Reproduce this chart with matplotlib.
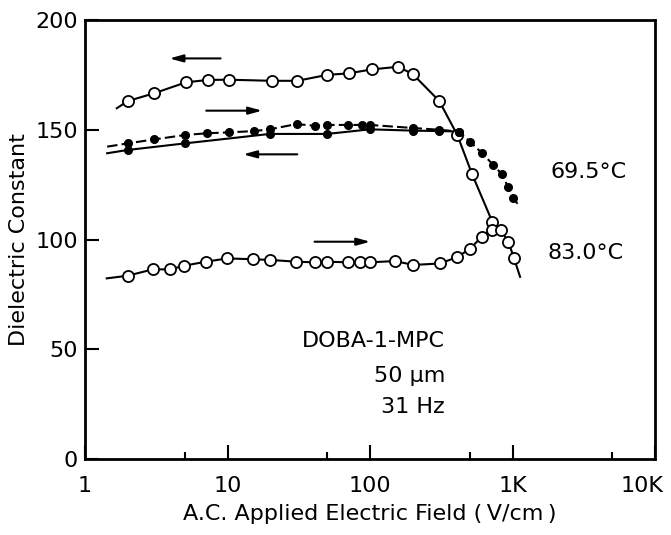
import numpy as np
import matplotlib.pyplot as plt
import matplotlib.transforms as mtransforms
from matplotlib.ticker import FixedLocator, FixedFormatter, NullFormatter

plt.rcParams['font.family'] = ['DejaVu Sans']

# 83.0 C, open circles, field decreasing (upper branch)
open_dn_x = [2.0, 3.05, 5.1, 7.26, 10.2, 20.4, 30.9, 50, 70.9, 103, 158, 200, 306, 410, 520, 721]
open_dn_y = [163.1, 166.6, 171.6, 172.7, 172.8, 172.3, 172.3, 175, 175.7, 177.5, 178.7, 175.3,
             163.1, 147.6, 129.8, 108.1]
open_dn_start = (1.67, 159.8)

# 83.0 C, open circles, field increasing (lower branch)
open_up_x = [1.99, 2.99, 3.95, 4.98, 7.06, 9.97, 15.2, 19.9, 30.3, 41.1, 50.1, 70.4, 85, 100,
             150, 201, 310, 406, 503, 608, 714, 826, 935, 1025]
open_up_y = [83.5, 86.4, 86.4, 88.1, 89.9, 91.4, 91, 90.7, 89.9, 89.6, 89.9, 89.6, 89.6, 89.6,
             90.2, 88.4, 89.1, 91.9, 95.7, 101.3, 104.3, 104.3, 99, 91.4]
open_up_start = (1.42, 82.3)
open_up_end = (1130, 83)

# 69.5 C, filled circles, field increasing (dashed)
fill_up_x = [2.0, 3.05, 5.03, 7.14, 10.2, 15.3, 19.8, 30.5, 41.1, 50, 70.2, 87.6, 100, 201, 306,
             420, 503, 608, 735, 843, 928, 1010]
fill_up_y = [143.8, 145.6, 147.6, 148.4, 148.8, 149.4, 150.2, 152.6, 151.8, 152.2, 152.2, 152.2,
             152.2, 150.8, 150, 149.2, 144.6, 139.5, 133.9, 129.7, 124.1, 118.8]
fill_up_start = (1.43, 142.3)
fill_up_end = (1130, 114.9)

# 69.5 C, filled circles, field decreasing (solid)
fill_dn_x = [2.0, 5.03, 19.8, 50, 100, 201, 306, 420]
fill_dn_y = [140.8, 143.8, 148.1, 148.1, 150.2, 149.6, 149.4, 149.2]
fill_dn_start = (1.43, 139.3)

# arrows: (x_from, x_to, y)
arrows = [(9.35, 3.74, 182.5), (6.78, 18.3, 158.7), (32.3, 12.3, 138.8), (39, 105, 99)]

x_ticks = [1, 10, 100, 1000, 10000]
x_tick_labels = ['1', '10', '100', '1K', '10K']
x_minor = [5, 50, 500, 5000]
y_ticks = [0, 50, 100, 150, 200]

fig = plt.figure(figsize=(6.71, 5.35), dpi=100)
ax = fig.add_axes([0.1267, 0.142, 0.8495, 0.8206])
ax.set_xscale('log')
ax.set_xlim(1, 10000)
ax.set_ylim(0, 200)

lw = 1.5
# open circles
ax.plot([open_dn_start[0]] + open_dn_x, [open_dn_start[1]] + open_dn_y, color='black', lw=lw, zorder=2)
ax.plot([open_up_start[0]] + open_up_x + [open_up_end[0]],
        [open_up_start[1]] + open_up_y + [open_up_end[1]], color='black', lw=lw, zorder=2)
ax.plot(open_dn_x, open_dn_y, 'o', ms=8, mfc='white', mec='black', mew=1.3, zorder=4)
ax.plot(open_up_x, open_up_y, 'o', ms=8, mfc='white', mec='black', mew=1.3, zorder=4)

# filled circles
ax.plot([fill_up_start[0]] + fill_up_x + [fill_up_end[0]],
        [fill_up_start[1]] + fill_up_y + [fill_up_end[1]], color='black', lw=lw,
        ls=(0, (5, 2)), zorder=2)
ax.plot([fill_dn_start[0]] + fill_dn_x, [fill_dn_start[1]] + fill_dn_y, color='black', lw=lw, zorder=2)
ax.plot(fill_up_x, fill_up_y, 'o', ms=5.5, color='black', zorder=5)
ax.plot(fill_dn_x, fill_dn_y, 'o', ms=5.5, color='black', zorder=5)

for x0, x1, y in arrows:
    ax.annotate('', xy=(x1, y), xytext=(x0, y),
                arrowprops=dict(arrowstyle='-|>,head_length=0.8,head_width=0.22', color='black', lw=1.5))

fs = 16
ax.text(1833, 130.8, '69.5°C', fontsize=fs, va='center', ha='left')
ax.text(1746, 93.8, '83.0°C', fontsize=fs, va='center', ha='left')
ax.text(336, 53.8, 'DOBA-1-MPC', fontsize=fs, va='center', ha='right')
ax.text(336, 37.8, '50 µm', fontsize=fs, va='center', ha='right')
ax.text(336, 23.7, '31 Hz', fontsize=fs, va='center', ha='right')

ax.xaxis.set_major_locator(FixedLocator(x_ticks))
ax.xaxis.set_major_formatter(FixedFormatter(x_tick_labels))
ax.xaxis.set_minor_locator(FixedLocator(x_minor))
ax.xaxis.set_minor_formatter(NullFormatter())
ax.set_yticks(y_ticks)

ax.tick_params(which='major', direction='in', length=10, width=1.5, labelsize=16)
ax.tick_params(axis='x', which='major', pad=12)
ax.tick_params(axis='y', which='major', pad=5)
ax.tick_params(which='minor', direction='in', length=5, width=1.5)
for s in ax.spines.values():
    s.set_linewidth(2)

# last x label sits a bit inside the frame
fig.canvas.draw()
lbl = ax.get_xticklabels()[-1]
lbl.set_transform(lbl.get_transform() + mtransforms.ScaledTranslation(-13 / 100, 0, fig.dpi_scale_trans))

ax.set_xlabel('A.C. Applied Electric Field (\u2009V/cm\u2009)', fontsize=fs, labelpad=6)
ax.set_ylabel('Dielectric Constant', fontsize=fs, labelpad=5)

fig.savefig('out.png', dpi=100)
